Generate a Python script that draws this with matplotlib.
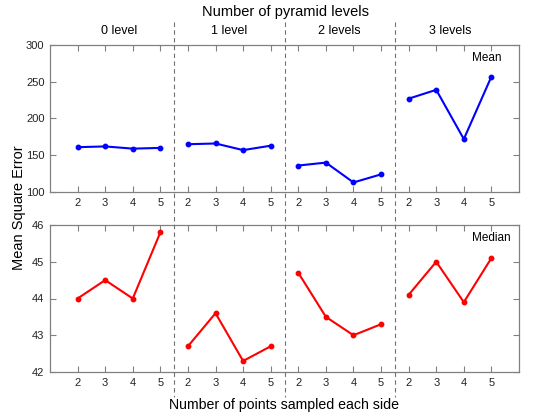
import matplotlib
matplotlib.use("Agg")
import matplotlib.pyplot as plt
from matplotlib.lines import Line2D

plt.rcParams['font.family'] = ['Liberation Sans', 'DejaVu Sans']

group_labels = ["0 level", "1 level", "2 levels", "3 levels"]
points = [2, 3, 4, 5]
mean_vals = [
    [161, 162, 159, 160],
    [165, 166, 157, 163],
    [136, 140, 113, 124],
    [227, 239, 172, 257],
]
median_vals = [
    [44.0, 44.5, 44.0, 45.8],
    [42.7, 43.6, 42.3, 42.7],
    [44.7, 43.5, 43.0, 43.3],
    [44.1, 45.0, 43.9, 45.1],
]
mean_yticks = [100, 150, 200, 250, 300]
median_yticks = [42, 43, 44, 45, 46]

W, H = 534, 418
fig = plt.figure(figsize=(W / 100, H / 100), dpi=100)

left = 50 / W
width = (519 - 50) / W
ax1 = fig.add_axes([left, 1 - 192 / H, width, 147 / H])
ax2 = fig.add_axes([left, 1 - 372 / H, width, 147 / H])

n = len(points)
xs_all = []
xt_labels = []
for g in range(len(group_labels)):
    xs = [g * n + i + 1 for i in range(n)]
    xs_all += xs
    xt_labels += [str(p) for p in points]
    ax1.plot(xs, mean_vals[g], '-o', color='#0000ff', lw=1.5, ms=3.2)
    ax2.plot(xs, median_vals[g], '-o', color='#ff0000', lw=1.5, ms=3.2)

frame_col = '#808080'
for ax, yt in ((ax1, mean_yticks), (ax2, median_yticks)):
    ax.set_xlim(0, len(group_labels) * n + 1)
    ax.set_ylim(yt[0], yt[-1])
    ax.set_yticks(yt)
    ax.set_xticks(xs_all)
    ax.set_xticklabels(xt_labels)
    ax.tick_params(direction='in', length=4, width=0.8, color=frame_col,
                   labelsize=8, top=True, right=True, pad=4, labelcolor='#222222')
    for s in ax.spines.values():
        s.set_color(frame_col)
        s.set_linewidth(0.9)

ax1.text(0.962, 0.91, "Mean", transform=ax1.transAxes, ha='right', va='center', fontsize=8.5)
ax2.text(0.982, 0.91, "Median", transform=ax2.transAxes, ha='right', va='center', fontsize=8.5)

# separators across the figure
x0, x1 = ax1.get_xlim()
for g in range(1, len(group_labels)):
    xd = g * n + 0.5
    fx = left + width * (xd - x0) / (x1 - x0)
    fig.add_artist(Line2D([fx, fx], [1 - 22 / H, 1 - 397 / H], transform=fig.transFigure,
                          color='#707070', lw=0.8, ls=(0, (4, 3))))

for g, lab in enumerate(group_labels):
    xc = g * n + (n + 1) / 2
    fx = left + width * (xc - x0) / (x1 - x0)
    fig.text(fx, 1 - 31 / H, lab, ha='center', va='center', fontsize=9)

fig.text(286 / W, 1 - 12 / H, "Number of pyramid levels", ha='center', va='center', fontsize=10.5)
fig.text(284 / W, 1 - 405 / H, "Number of points sampled each side", ha='center', va='center', fontsize=10.2)
fig.text(19 / W, 1 - 208 / H, "Mean Square Error", ha='center', va='center', rotation=90, fontsize=10.5)

fig.savefig("out.png", dpi=100)
